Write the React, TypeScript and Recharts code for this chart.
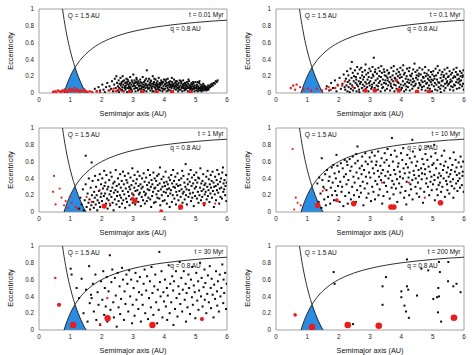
import React from "react";
import { ComposedChart, Scatter, Line, Area, XAxis, YAxis, ReferenceArea, ReferenceDot } from "recharts";

type Pt = [number, number];

const xTicks = [0, 1, 2, 3, 4, 5, 6];
const yTicks = [0, 0.2, 0.4, 0.6, 0.8, 1];
const times = ["t = 0.01 Myr", "t = 0.1 Myr", "t = 1 Myr", "t = 10 Myr", "t = 30 Myr", "t = 200 Myr"];

// aphelion Q = 1.5 AU and perihelion q = 0.8 AU
const QCurve: Pt[] = [[0.75,1],[0.8,.875],[0.85,.765],[0.9,.667],[0.95,.579],[1,.5],[1.05,.429],[1.1,.364],[1.15,.304],[1.2,.25],[1.3,.154],[1.4,.071],[1.5,0]];
const qCurve: Pt[] = [[0.8,0],[0.85,.059],[0.9,.111],[1,.2],[1.1,.273],[1.15,.304],[1.2,.333],[1.3,.385],[1.4,.429],[1.6,.5],[1.8,.556],[2,.6],[2.25,.644],[2.5,.68],[2.75,.709],[3,.733],[3.5,.771],[4,.8],[4.5,.822],[5,.84],[5.5,.855],[6,.867]];
const zone: Pt[] = [[0.8,0],[0.85,.059],[0.9,.111],[1,.2],[1.1,.273],[1.15,.304],[1.2,.25],[1.3,.154],[1.4,.071],[1.5,0]];

// planetesimals
const dots1: Pt[] = [[1.78,.05],[1.84,.02],[1.9,.07],[1.95,.03],[2.02,.1],[2.06,.04],[2.1,.01],[2.14,.07],[2.18,.12],[2.22,.03],[2.25,.08],[2.3,.05],[2.33,.14],[2.36,.02],[2.4,.1],[2.42,.17],[2.45,.06],[2.47,.2],[2.49,.12],[2.5,.03],
[2.52,.08],[2.54,.15],[2.55,.01],[2.57,.11],[2.58,.05],[2.6,.18],[2.61,.09],[2.63,.03],[2.64,.13],[2.66,.07],[2.67,.2],[2.69,.1],[2.7,.02],[2.72,.15],[2.73,.06],[2.75,.12],[2.76,.04],[2.78,.09],[2.79,.17],[2.81,.01],[2.82,.11],[2.84,.06],[2.85,.14],[2.87,.08],[2.88,.03],[2.9,.12],[2.91,.19],[2.93,.05],[2.94,.1],[2.96,.15],[2.97,.02],[2.99,.08],[2.62,.11],[2.68,.14],[2.74,.08],[2.8,.13],[2.86,.1],[2.92,.07],[2.98,.13],[2.56,.06],[2.65,.04],[2.77,.06],[2.83,.16],[2.89,.06],[2.95,.04],
[3.01,.22],[3.02,.11],[3.04,.05],[3.05,.15],[3.07,.08],[3.08,.02],[3.1,.13],[3.11,.18],[3.13,.06],[3.14,.1],[3.16,.03],[3.17,.14],[3.19,.08],[3.2,.11],[3.22,.05],[3.23,.16],[3.25,.09],[3.26,.02],[3.28,.12],[3.29,.07],[3.31,.19],[3.32,.1],[3.34,.04],[3.35,.13],[3.37,.08],[3.38,.15],[3.4,.06],[3.41,.11],[3.43,.02],[3.44,.27],[3.45,.09],[3.47,.14],[3.48,.05],[3.5,.1],[3.03,.09],[3.09,.06],[3.15,.12],[3.21,.08],[3.27,.05],[3.33,.07],[3.39,.1],[3.46,.07],[3.06,.12],[3.18,.04],[3.24,.13],[3.36,.03],[3.42,.17],[3.12,.16],
[3.51,.17],[3.52,.06],[3.54,.12],[3.55,.03],[3.57,.09],[3.58,.14],[3.6,.05],[3.61,.11],[3.63,.2],[3.64,.08],[3.66,.02],[3.67,.13],[3.69,.07],[3.7,.1],[3.72,.16],[3.73,.04],[3.75,.12],[3.76,.08],[3.78,.14],[3.79,.05],[3.81,.1],[3.82,.18],[3.84,.07],[3.85,.12],[3.87,.03],[3.88,.09],[3.9,.15],[3.91,.06],[3.93,.11],[3.94,.02],[3.96,.13],[3.97,.08],[3.99,.16],[3.53,.09],[3.59,.07],[3.65,.11],[3.71,.06],[3.77,.1],[3.83,.04],[3.89,.12],[3.95,.05],[3.56,.15],[3.62,.02],[3.68,.17],[3.74,.09],[3.8,.07],[3.86,.1],[3.92,.13],[3.98,.04],
[4.01,.1],[4.02,.05],[4.04,.14],[4.05,.08],[4.07,.02],[4.08,.12],[4.1,.06],[4.11,.17],[4.13,.09],[4.14,.04],[4.16,.11],[4.17,.07],[4.19,.14],[4.2,.03],[4.22,.1],[4.23,.06],[4.25,.13],[4.26,.08],[4.28,.02],[4.29,.11],[4.31,.16],[4.32,.05],[4.34,.09],[4.35,.12],[4.37,.04],[4.38,.08],[4.4,.14],[4.41,.06],[4.43,.1],[4.44,.02],[4.46,.12],[4.47,.07],[4.49,.15],[4.03,.11],[4.09,.09],[4.15,.13],[4.21,.08],[4.27,.1],[4.33,.07],[4.39,.11],[4.45,.05],[4.06,.16],[4.12,.03],[4.18,.1],[4.24,.18],[4.3,.08],[4.36,.14],[4.42,.09],[4.48,.04],
[4.51,.09],[4.52,.04],[4.54,.12],[4.55,.07],[4.57,.02],[4.58,.1],[4.6,.15],[4.61,.06],[4.63,.09],[4.64,.03],[4.66,.12],[4.67,.07],[4.69,.1],[4.7,.05],[4.72,.13],[4.73,.08],[4.75,.02],[4.76,.11],[4.78,.06],[4.79,.14],[4.81,.09],[4.82,.04],[4.84,.1],[4.85,.07],[4.87,.12],[4.88,.03],[4.9,.08],[4.91,.05],[4.93,.11],[4.94,.07],[4.96,.02],[4.97,.09],[4.99,.13],[4.53,.14],[4.59,.08],[4.65,.05],[4.71,.09],[4.77,.16],[4.83,.06],[4.89,.1],[4.95,.05],[4.56,.06],[4.62,.11],[4.68,.04],[4.74,.06],[4.8,.08],[4.86,.05],[4.92,.13],[4.98,.06],
[5.01,.06],[5.02,.03],[5.04,.1],[5.05,.05],[5.07,.02],[5.08,.08],[5.1,.04],[5.11,.12],[5.13,.06],[5.14,.03],[5.16,.07],[5.17,.05],[5.19,.02],[5.2,.09],[5.22,.04],[5.23,.06],[5.25,.03],[5.26,.07],[5.28,.05],[5.29,.04],[5.31,.08],[5.32,.05],[5.34,.03],[5.35,.06],[5.37,.07],[5.38,.05],[5.4,.09],[5.42,.06],[5.44,.08],[5.46,.07],[5.48,.1],[5.5,.08],[5.52,.11],[5.55,.09],[5.58,.12],[5.61,.11],[5.64,.14],[5.67,.13],[5.7,.15],[5.03,.08],[5.09,.06],[5.15,.1],[5.21,.07],[5.27,.09],[5.33,.04],[5.12,.14],[5.24,.11],[5.06,.13],[5.18,.04],[5.3,.06],[5.36,.04],[5.41,.04]];

const dots2: Pt[] = [[1.62,.08],[1.7,.03],[1.76,.12],[1.82,.06],[1.88,.15],[1.93,.02],[1.97,.09],[2.03,.18],[2.07,.05],[2.12,.11],[2.16,.22],[2.19,.07],
[2.21,.04],[2.23,.17],[2.25,.09],[2.27,.26],[2.28,.02],[2.29,.13],[2.31,.21],[2.32,.07],[2.34,.15],[2.35,.01],[2.37,.11],[2.38,.29],[2.39,.05],
[2.41,.18],[2.42,.37],[2.43,.09],[2.45,.24],[2.46,.03],[2.48,.14],[2.49,.2],[2.51,.06],[2.52,.27],[2.54,.12],[2.55,.19],[2.57,.02],[2.58,.1],[2.59,.31],[2.56,.16],
[2.61,.23],[2.62,.08],[2.64,.14],[2.65,.04],[2.67,.28],[2.68,.11],[2.69,.18],[2.66,.01],[2.71,.13],[2.72,.3],[2.74,.06],[2.75,.21],[2.77,.1],[2.78,.16],[2.79,.03],[2.76,.25],
[2.81,.19],[2.82,.08],[2.84,.27],[2.85,.13],[2.87,.05],[2.88,.22],[2.89,.11],[2.86,.34],[2.91,.07],[2.92,.16],[2.94,.24],[2.95,.02],[2.97,.12],[2.98,.29],[2.99,.09],[2.96,.19],
[3.01,.14],[3.02,.26],[3.04,.05],[3.05,.18],[3.07,.1],[3.08,.31],[3.09,.22],[3.06,.07],[3.11,.2],[3.12,.42],[3.13,.12],[3.15,.06],[3.16,.25],[3.18,.15],[3.19,.03],[3.17,.28],
[3.21,.09],[3.22,.23],[3.24,.17],[3.25,.04],[3.27,.3],[3.28,.12],[3.29,.2],[3.26,.08],[3.31,.26],[3.32,.14],[3.34,.02],[3.35,.19],[3.37,.1],[3.38,.24],[3.39,.06],[3.36,.32],
[3.41,.16],[3.42,.07],[3.44,.28],[3.45,.12],[3.47,.21],[3.48,.03],[3.49,.15],[3.46,.25],[3.51,.11],[3.52,.2],[3.54,.05],[3.55,.27],[3.57,.15],[3.58,.09],[3.59,.23],[3.56,.18],
[3.61,.24],[3.62,.13],[3.64,.03],[3.65,.19],[3.67,.08],[3.68,.3],[3.69,.16],[3.66,.11],[3.71,.06],[3.72,.21],[3.74,.14],[3.75,.26],[3.77,.1],[3.78,.02],[3.79,.18],[3.76,.32],
[3.81,.17],[3.82,.09],[3.84,.23],[3.85,.05],[3.87,.28],[3.88,.13],[3.89,.2],[3.86,.15],[3.91,.12],[3.92,.25],[3.94,.07],[3.95,.18],[3.97,.3],[3.98,.1],[3.99,.04],[3.96,.22],
[4.01,.19],[4.02,.06],[4.04,.27],[4.05,.14],[4.07,.09],[4.08,.22],[4.09,.02],[4.06,.33],[4.11,.24],[4.12,.11],[4.14,.17],[4.15,.04],[4.17,.2],[4.18,.29],[4.19,.13],[4.16,.08],
[4.21,.07],[4.22,.16],[4.24,.26],[4.25,.12],[4.27,.03],[4.28,.21],[4.29,.15],[4.26,.3],[4.31,.2],[4.32,.1],[4.34,.23],[4.35,.05],[4.37,.17],[4.38,.28],[4.39,.08],[4.36,.13],
[4.41,.14],[4.42,.35],[4.44,.09],[4.45,.25],[4.47,.18],[4.48,.02],[4.49,.21],[4.46,.11],[4.51,.27],[4.52,.16],[4.54,.06],[4.55,.2],[4.57,.12],[4.58,.3],[4.59,.09],[4.56,.23],
[4.61,.1],[4.62,.22],[4.64,.15],[4.65,.04],[4.67,.28],[4.68,.13],[4.69,.19],[4.66,.07],[4.71,.18],[4.72,.08],[4.74,.24],[4.75,.14],[4.77,.03],[4.78,.2],[4.79,.11],[4.76,.31],
[4.81,.23],[4.82,.12],[4.84,.06],[4.85,.17],[4.87,.27],[4.88,.09],[4.89,.15],[4.86,.21],[4.91,.05],[4.92,.19],[4.94,.13],[4.95,.25],[4.97,.1],[4.98,.02],[4.99,.22],[4.96,.16],
[5.01,.15],[5.02,.26],[5.04,.08],[5.05,.2],[5.07,.12],[5.08,.04],[5.09,.29],[5.06,.17],[5.11,.21],[5.12,.1],[5.14,.16],[5.15,.03],[5.17,.24],[5.18,.13],[5.19,.07],[5.16,.32],
[5.21,.12],[5.22,.27],[5.24,.05],[5.25,.18],[5.27,.09],[5.28,.22],[5.29,.14],[5.26,.01],[5.31,.25],[5.32,.15],[5.34,.08],[5.35,.19],[5.37,.03],[5.38,.28],[5.39,.11],[5.36,.21],
[5.41,.06],[5.42,.17],[5.44,.23],[5.45,.12],[5.47,.3],[5.48,.09],[5.49,.19],[5.46,.14],[5.51,.2],[5.52,.11],[5.54,.26],[5.55,.04],[5.57,.16],[5.58,.22],[5.59,.08],[5.56,.13],
[5.61,.14],[5.62,.24],[5.64,.07],[5.65,.18],[5.67,.28],[5.68,.1],[5.69,.2],[5.66,.03],[5.71,.09],[5.72,.19],[5.74,.25],[5.75,.13],[5.77,.05],[5.78,.22],[5.79,.16],[5.76,.3],
[5.81,.22],[5.82,.12],[5.84,.17],[5.85,.06],[5.87,.26],[5.88,.1],[5.89,.2],[5.86,.14],[5.91,.15],[5.92,.24],[5.94,.08],[5.95,.19],[5.97,.11],[5.98,.27],[5.99,.04],[5.96,.21]];

const dots3: Pt[] = [[1.28,.04],[1.32,.17],[1.36,.09],[1.4,.27],[1.43,.02],[1.46,.14],[1.49,.33],[1.49,.67],[1.52,.06],[1.55,.22],[1.58,.11],[1.59,.4],
[1.61,.15],[1.63,.03],[1.65,.29],[1.68,.59],[1.67,.08],[1.69,.2],[1.71,.37],[1.73,.12],[1.75,.05],[1.76,.24],[1.78,.17],[1.79,.43],
[1.81,.09],[1.82,.3],[1.84,.2],[1.86,.02],[1.87,.14],[1.89,.38],[1.91,.25],[1.92,.11],[1.94,.45],[1.95,.06],[1.97,.18],[1.98,.33],[1.99,.22],
[2.01,.13],[2.02,.4],[2.04,.28],[2.05,.07],[2.07,.19],[2.08,.49],[2.09,.31],[2.11,.22],[2.12,.35],[2.14,.1],[2.15,.44],[2.17,.16],[2.18,.27],[2.19,.04],
[2.21,.3],[2.22,.14],[2.24,.38],[2.25,.21],[2.27,.08],[2.28,.47],[2.29,.25],[2.31,.18],[2.32,.42],[2.34,.29],[2.35,.11],[2.37,.34],[2.38,.02],[2.39,.23],
[2.41,.36],[2.42,.15],[2.44,.26],[2.45,.5],[2.47,.09],[2.48,.31],[2.49,.19],[2.51,.24],[2.52,.4],[2.54,.13],[2.55,.33],[2.57,.06],[2.58,.2],[2.59,.45],
[2.61,.29],[2.62,.17],[2.64,.37],[2.65,.1],[2.67,.25],[2.68,.48],[2.69,.14],[2.71,.33],[2.72,.21],[2.74,.43],[2.75,.05],[2.77,.28],[2.78,.16],[2.79,.38],
[2.81,.12],[2.82,.35],[2.84,.24],[2.85,.46],[2.87,.19],[2.88,.3],[2.89,.08],[2.91,.27],[2.92,.41],[2.94,.15],[2.95,.32],[2.97,.22],[2.98,.52],[2.99,.11],
[3.01,.37],[3.02,.2],[3.04,.29],[3.05,.44],[3.07,.09],[3.08,.25],[3.09,.34],[3.11,.16],[3.12,.39],[3.14,.26],[3.15,.48],[3.17,.12],[3.18,.31],[3.19,.21],
[3.21,.43],[3.22,.23],[3.24,.33],[3.25,.07],[3.27,.28],[3.28,.18],[3.29,.4],[3.31,.3],[3.32,.14],[3.34,.46],[3.35,.24],[3.37,.36],[3.38,.1],[3.39,.2],
[3.41,.22],[3.42,.41],[3.44,.13],[3.45,.32],[3.47,.27],[3.48,.5],[3.49,.17],[3.51,.35],[3.52,.26],[3.54,.44],[3.55,.15],[3.57,.3],[3.58,.06],[3.59,.38],
[3.61,.19],[3.62,.33],[3.64,.24],[3.65,.47],[3.67,.11],[3.68,.28],[3.69,.4],[3.71,.29],[3.72,.12],[3.74,.37],[3.75,.21],[3.77,.43],[3.78,.17],[3.79,.32],
[3.81,.25],[3.82,.45],[3.84,.16],[3.85,.34],[3.86,.53],[3.87,.08],[3.89,.27],[3.91,.39],[3.92,.2],[3.94,.3],[3.95,.13],[3.97,.42],[3.98,.24],[3.99,.35],
[4.01,.14],[4.02,.31],[4.04,.48],[4.05,.23],[4.07,.36],[4.08,.1],[4.09,.27],[4.11,.33],[4.12,.19],[4.14,.41],[4.15,.28],[4.17,.06],[4.18,.38],[4.19,.22],
[4.21,.26],[4.22,.44],[4.24,.12],[4.25,.34],[4.27,.2],[4.28,.5],[4.29,.3],[4.31,.37],[4.32,.16],[4.34,.29],[4.35,.42],[4.37,.09],[4.38,.24],[4.39,.33],
[4.41,.2],[4.42,.46],[4.44,.31],[4.45,.14],[4.47,.38],[4.48,.25],[4.49,.04],[4.51,.32],[4.52,.18],[4.54,.4],[4.55,.27],[4.57,.49],[4.58,.11],[4.59,.22],
[4.61,.43],[4.62,.24],[4.64,.35],[4.65,.15],[4.67,.3],[4.68,.57],[4.69,.2],[4.71,.27],[4.72,.09],[4.74,.39],[4.75,.33],[4.77,.18],[4.78,.45],[4.79,.26],
[4.81,.36],[4.82,.22],[4.84,.5],[4.85,.13],[4.87,.31],[4.88,.41],[4.89,.17],[4.91,.23],[4.92,.34],[4.94,.07],[4.95,.44],[4.97,.28],[4.98,.19],[4.99,.38],
[5.01,.3],[5.02,.47],[5.04,.16],[5.05,.35],[5.07,.24],[5.08,.41],[5.09,.11],[5.11,.4],[5.12,.2],[5.14,.29],[5.15,.52],[5.17,.14],[5.18,.34],[5.19,.25],
[5.21,.18],[5.22,.37],[5.24,.45],[5.25,.27],[5.27,.08],[5.28,.32],[5.29,.21],[5.31,.34],[5.32,.24],[5.34,.42],[5.35,.15],[5.37,.3],[5.38,.49],[5.39,.19],
[5.41,.26],[5.42,.39],[5.44,.12],[5.45,.33],[5.47,.22],[5.48,.44],[5.49,.29],[5.51,.37],[5.52,.17],[5.54,.48],[5.55,.25],[5.57,.35],[5.58,.06],[5.59,.3],
[5.61,.21],[5.62,.42],[5.64,.31],[5.65,.14],[5.67,.38],[5.68,.26],[5.69,.5],[5.71,.33],[5.72,.23],[5.74,.45],[5.75,.1],[5.77,.28],[5.78,.36],[5.79,.18],
[5.81,.4],[5.82,.29],[5.84,.16],[5.85,.47],[5.87,.53],[5.88,.24],[5.89,.34],[5.91,.27],[5.92,.38],[5.94,.2],[5.95,.31],[5.97,.44],[5.98,.13],[5.99,.35]];

const dots4: Pt[] = [[1.32,.34],[1.36,.12],[1.38,.41],[1.42,.22],[1.45,.05],[1.48,.38],[1.46,.64],[1.51,.3],[1.54,.15],[1.57,.45],[1.59,.08],
[1.61,.26],[1.63,.5],[1.66,.18],[1.68,.37],[1.71,.42],[1.73,.1],[1.75,.29],[1.78,.53],[1.79,.2],[1.81,.35],[1.83,.56],[1.85,.14],[1.87,.46],[1.89,.25],
[1.91,.4],[1.93,.68],[1.94,.2],[1.96,.55],[1.98,.31],[2.01,.48],[2.03,.12],[2.05,.36],[2.07,.58],[2.09,.24],[2.11,.3],[2.13,.52],[2.15,.07],[2.17,.42],[2.19,.62],
[2.21,.19],[2.23,.45],[2.26,.6],[2.25,.33],[2.28,.56],[2.29,.1],[2.31,.38],[2.33,.23],[2.35,.63],[2.37,.49],[2.39,.15],[2.41,.54],[2.43,.3],[2.45,.66],[2.47,.42],[2.49,.2],
[2.51,.35],[2.53,.58],[2.55,.12],[2.57,.47],[2.59,.26],[2.56,.69],[2.61,.61],[2.63,.4],[2.65,.18],[2.67,.52],[2.69,.31],[2.6,.78],
[2.71,.23],[2.73,.45],[2.75,.66],[2.77,.36],[2.79,.08],[2.74,.55],[2.81,.5],[2.83,.28],[2.85,.7],[2.87,.42],[2.89,.17],[2.86,.6],
[2.91,.34],[2.93,.57],[2.95,.22],[2.97,.47],[2.99,.65],[3.01,.41],[3.03,.13],[3.05,.6],[3.07,.3],[3.09,.52],[3.06,.71],
[3.11,.24],[3.13,.46],[3.15,.67],[3.17,.37],[3.19,.56],[3.16,.15],[3.21,.6],[3.23,.33],[3.25,.49],[3.27,.2],[3.29,.42],[3.26,.72],
[3.31,.27],[3.33,.55],[3.35,.38],[3.37,.64],[3.39,.1],[3.36,.46],[3.41,.5],[3.43,.19],[3.45,.35],[3.47,.7],[3.49,.43],[3.46,.59],
[3.51,.31],[3.53,.62],[3.55,.24],[3.57,.48],[3.59,.4],[3.56,.75],[3.61,.55],[3.63,.16],[3.65,.44],[3.67,.68],[3.69,.29],[3.7,.88],
[3.71,.37],[3.73,.6],[3.75,.21],[3.77,.5],[3.79,.73],[3.76,.33],[3.81,.45],[3.83,.28],[3.85,.66],[3.87,.12],[3.89,.54],[3.86,.39],
[3.91,.58],[3.93,.34],[3.95,.48],[3.97,.23],[3.99,.7],[3.96,.42],[4.01,.3],[4.03,.62],[4.05,.4],[4.07,.52],[4.09,.17],[4.06,.76],
[4.11,.46],[4.13,.25],[4.15,.57],[4.17,.36],[4.19,.68],[4.16,.09],[4.21,.53],[4.23,.41],[4.25,.2],[4.27,.64],[4.29,.33],[4.26,.47],
[4.31,.27],[4.33,.59],[4.35,.38],[4.37,.72],[4.39,.49],[4.36,.15],[4.35,.86],[4.41,.44],[4.43,.66],[4.45,.3],[4.47,.55],[4.49,.22],[4.46,.4],
[4.51,.6],[4.53,.35],[4.55,.5],[4.57,.18],[4.59,.74],[4.56,.43],[4.61,.28],[4.63,.52],[4.65,.39],[4.67,.63],[4.69,.11],[4.66,.46],
[4.71,.57],[4.73,.24],[4.75,.45],[4.77,.69],[4.79,.34],[4.76,.51],[4.81,.4],[4.83,.62],[4.85,.3],[4.87,.54],[4.89,.2],[4.86,.78],
[4.91,.48],[4.93,.36],[4.95,.66],[4.97,.26],[4.99,.56],[4.96,.42],[5.01,.33],[5.03,.58],[5.05,.44],[5.07,.14],[5.09,.7],[5.06,.38],
[5.11,.52],[5.13,.27],[5.15,.62],[5.17,.41],[5.19,.32],[5.16,.2],[5.05,.8],[5.21,.46],[5.23,.35],[5.25,.57],[5.27,.24],[5.29,.67],[5.26,.43],
[5.31,.3],[5.33,.5],[5.35,.4],[5.37,.73],[5.39,.18],[5.36,.55],[5.41,.6],[5.43,.37],[5.45,.47],[5.47,.26],[5.49,.53],[5.46,.33],
[5.51,.42],[5.53,.22],[5.55,.64],[5.57,.36],[5.59,.5],[5.56,.45],[5.61,.31],[5.63,.56],[5.65,.39],[5.67,.71],[5.69,.28],[5.66,.17],
[5.71,.48],[5.73,.62],[5.75,.34],[5.77,.44],[5.79,.25],[5.76,.53],[5.81,.37],[5.83,.59],[5.85,.46],[5.87,.29],[5.89,.66],[5.86,.4],
[5.91,.54],[5.93,.32],[5.95,.43],[5.97,.6],[5.99,.24],[5.96,.48]];

const dots5: Pt[] = [[1.01,.73],[1.04,.66],[1.2,.5],[1.28,.38],[1.36,.61],[1.42,.2],[1.5,.48],[1.55,.1],[1.6,.76],[1.62,.32],[1.66,.42],[1.68,.38],[1.72,.55],[1.75,.22],[1.8,.66],[1.83,.12],[1.87,.45],[1.9,.3],[1.95,.06],[1.98,.58],
[2.02,.36],[2.05,.7],[2.08,.18],[2.1,.5],[2.13,.28],[2.16,.63],[2.18,.1],[2.22,.46],[2.26,.89],[2.28,.24],[2.31,.57],[2.34,.72],[2.37,.33],[2.39,.15],
[2.42,.62],[2.45,.41],[2.48,.04],[2.51,.68],[2.54,.27],[2.57,.52],[2.59,.19],[2.62,.37],[2.65,.74],[2.68,.6],[2.71,.12],[2.73,.46],[2.76,.31],[2.79,.66],
[2.82,.55],[2.85,.22],[2.88,.71],[2.91,.4],[2.94,.6],[2.97,.08],[2.99,.3],[3.02,.5],[3.05,.17],[3.08,.68],[3.11,.36],[3.14,.58],[3.17,.25],[3.19,.45],
[3.22,.63],[3.25,.1],[3.28,.42],[3.31,.3],[3.34,.55],[3.37,.72],[3.39,.2],[3.42,.47],[3.45,.64],[3.48,.13],[3.51,.38],[3.54,.58],[3.57,.27],[3.59,.75],
[3.62,.44],[3.65,.18],[3.68,.52],[3.71,.66],[3.74,.33],[3.77,.08],[3.79,.48],[3.82,.24],[3.84,.93],[3.86,.57],[3.88,.4],[3.91,.7],[3.94,.15],[3.97,.45],[3.99,.34],
[4.02,.6],[4.05,.28],[4.08,.5],[4.09,.12],[4.11,.41],[4.14,.77],[4.17,.2],[4.19,.55],[4.22,.33],[4.25,.64],[4.28,.47],[4.29,.06],[4.31,.58],[4.34,.25],[4.37,.7],[4.39,.38],
[4.42,.16],[4.45,.52],[4.48,.43],[4.49,.81],[4.51,.31],[4.54,.62],[4.57,.22],[4.59,.48],[4.62,.7],[4.65,.36],[4.68,.55],[4.69,.1],[4.71,.44],[4.74,.27],[4.77,.66],[4.79,.5],
[4.82,.19],[4.85,.6],[4.88,.39],[4.89,.75],[4.91,.3],[4.94,.53],[4.97,.45],[4.99,.14],[5.02,.68],[5.05,.35],[5.08,.58],[5.09,.24],[5.11,.47],[5.14,.8],[5.17,.4],[5.19,.62],
[5.22,.28],[5.25,.51],[5.28,.72],[5.29,.36],[5.31,.56],[5.34,.2],[5.37,.43],[5.39,.65],[5.42,.33],[5.45,.76],[5.48,.5],[5.49,.26],[5.51,.61],[5.54,.42],[5.57,.15],[5.59,.54],
[5.62,.37],[5.65,.7],[5.68,.46],[5.69,.29],[5.71,.58],[5.74,.22],[5.77,.66],[5.79,.4],[5.82,.5],[5.85,.78],[5.88,.32],[5.89,.6],[5.91,.44],[5.94,.68],[5.97,.25],[5.99,.55]];

const dots6: Pt[] = [[1.84,.69],[1.87,.55],[2.46,.07],[3.51,.63],[3.4,.52],[3.4,.3],[4,.46],[4,.39],[4.1,.29],[4.15,.22],[4.18,.52],[4.22,.48],[4.24,.145],[4.18,.84],[4.5,.41],[4.64,.73],[4.86,.71],[5.02,.37],[5.14,.39],[5.18,.5],[5.23,.69],[5.2,.4],[5.17,.21],[5.27,.1],[5.2,.81],[5.49,.58],[5.66,.52],[5.76,.55],[5.89,.45],[5.5,.81]];

// embryos: small, medium and large bodies
const small1: Pt[] = [[0.45,.01],[0.5,.02],[0.55,.01],[0.6,.03],[0.65,.02],[0.7,.01],[0.74,.03],[0.78,.02],[0.82,.04],[0.86,.02],[0.9,.01],[0.94,.03],[0.98,.05],[1.02,.02],[1.06,.04],[1.1,.03],[1.14,.06],[1.18,.02],[1.22,.04],[1.26,.03],[1.3,.01],[1.35,.03],[1.4,.02],[1.45,.04],[1.5,.02],[1.55,.01],[1.62,.02],[1.7,.01],[1.85,.02],[1.95,.01],[2.25,.03],[2.38,.05],[2.45,.02],[2.55,.04],[2.7,.02]];
const mid1: Pt[] = [];
const big1: Pt[] = [[2.9,.01],[3.3,.01],[3.76,.01],[4.24,.01],[4.84,.01]];

const small2: Pt[] = [[0.47,.06],[0.55,.09],[0.61,.04],[0.66,.1],[0.77,.07],[0.88,.04],[1.01,.055],[1.12,.03],[1.3,.05],[1.47,.03],[1.6,.05],[1.68,.07],[1.75,.04],[1.89,.06],[1.97,.1],[2.11,.09],[2.2,.14],[2.45,.07]];
const mid2: Pt[] = [[3.84,.15]];
const big2: Pt[] = [[2.85,.03],[3.15,.03],[3.92,.03],[4.5,.015],[4.88,.015]];

const small3: Pt[] = [[0.48,.43],[0.45,.24],[0.53,.09],[0.66,.28],[0.72,.17],[0.8,.08],[0.85,.13],[0.93,.05],[1.04,.11],[0.98,.18],[1.17,.06],[1.22,.04],[1.52,.18],[1.68,.12],[1.94,.26],[2.26,.1],[2.99,.22],[5.62,.1]];
const mid3: Pt[] = [[2.99,.16],[3.9,.01],[5.27,.1]];
const big3: Pt[] = [[2.08,.07],[3.06,.13],[4.52,.06]];

const small4: Pt[] = [[0.53,.75],[0.63,.17],[0.69,.11],[0.58,.03],[0.79,.08],[1.54,.28],[1.49,.25],[3.38,.35],[4.24,.35],[4.75,.17]];
const mid4: Pt[] = [[1.94,.14]];
const big4: Pt[] = [[1.33,.08],[2.48,.1],[3.67,.06],[3.76,.06],[5.25,.11]];

const small5: Pt[] = [[0.52,.62],[2.18,.38],[1.95,.07]];
const mid5: Pt[] = [[0.64,.3],[5.2,.13]];
const big5: Pt[] = [[1.09,.06],[2.19,.14],[3.62,.06]];

const small6: Pt[] = [];
const mid6: Pt[] = [[0.61,.18]];
const big6: Pt[] = [[1.15,.035],[2.29,.06],[3.28,.05],[5.68,.145]];

const toRows = (pts: Pt[]) => pts.map(([a, e]) => ({ a, e }));

const panels = [
  { t: times[0], dots: dots1, small: small1, mid: mid1, big: big1, r: [1.3, 1.6, 2.1] },
  { t: times[1], dots: dots2, small: small2, mid: mid2, big: big2, r: [1.2, 1.7, 2.3] },
  { t: times[2], dots: dots3, small: small3, mid: mid3, big: big3, r: [1.1, 1.9, 2.6] },
  { t: times[3], dots: dots4, small: small4, mid: mid4, big: big4, r: [1.1, 1.9, 2.8] },
  { t: times[4], dots: dots5, small: small5, mid: mid5, big: big5, r: [1.2, 2.1, 3.2] },
  { t: times[5], dots: dots6, small: small6, mid: mid6, big: big6, r: [1.2, 1.8, 3.3] },
];

const W = 237;
const H = 126;
const LEFT = 39;
const RIGHT = 10;
const TOP = 9;
const XAXIS_H = 33;
const PLOT_BOTTOM = H - XAXIS_H;
const FONT = "'Liberation Sans', Arial, sans-serif";
const RED = "#ec1c1c";
const BLUE = "#2a8de2";
const tickStyle = { fontSize: 6.3, fill: "#222", fontFamily: FONT };

const blackDot = (p: any) => <rect x={p.cx - 1} y={p.cy - 1} width={2} height={2} fill="#0c0c0c" />;
const redDot = (r: number) => (p: any) => <circle cx={p.cx} cy={p.cy} r={r} fill={RED} />;

const annot = (text: string, anchor: "start" | "end") => (props: any) => {
  const vb = props.viewBox || { x: 0, y: 0 };
  return (
    <text x={vb.x} y={vb.y} dy="0.35em" textAnchor={anchor} fontSize={6.5} fill="#111" fontFamily={FONT}>
      {text}
    </text>
  );
};

const xTitle = () => (
  <text x={LEFT + (W - LEFT - RIGHT) / 2} y={PLOT_BOTTOM + 20} dy="0.35em" textAnchor="middle" fontSize={7.3} fill="#111" fontFamily={FONT}>
    Semimajor axis (AU)
  </text>
);

const yTitle = () => {
  const cy = TOP + (PLOT_BOTTOM - TOP) / 2;
  return (
    <text x={10} y={cy} dy="0.35em" textAnchor="middle" fontSize={7.3} fill="#111" fontFamily={FONT} transform={`rotate(-90, 10, ${cy})`}>
      Eccentricity
    </text>
  );
};

function Panel({ cfg }: { cfg: (typeof panels)[number] }) {
  return (
    <ComposedChart width={W} height={H} margin={{ top: TOP, right: RIGHT, bottom: 0, left: 0 }}>
      <XAxis type="number" dataKey="a" domain={[0, 6]} ticks={xTicks} allowDataOverflow axisLine={false} tickLine={false} tickSize={0} tickMargin={5} tick={tickStyle} height={XAXIS_H} label={xTitle} />
      <YAxis type="number" dataKey="e" domain={[0, 1]} ticks={yTicks} allowDataOverflow axisLine={false} tickLine={false} tickSize={0} tickMargin={5} tick={tickStyle} width={LEFT} label={yTitle} />
      <Area data={toRows(zone)} dataKey="e" type="linear" fill={BLUE} fillOpacity={1} stroke="none" isAnimationActive={false} />
      <Line data={toRows(QCurve)} dataKey="e" type="monotone" stroke="#1a1a1a" strokeWidth={0.9} dot={false} isAnimationActive={false} />
      <Line data={toRows(qCurve)} dataKey="e" type="monotone" stroke="#1a1a1a" strokeWidth={0.9} dot={false} isAnimationActive={false} />
      <Scatter data={toRows(cfg.dots)} dataKey="e" shape={blackDot} isAnimationActive={false} />
      <Scatter data={toRows(cfg.small)} dataKey="e" shape={redDot(cfg.r[0])} isAnimationActive={false} />
      <Scatter data={toRows(cfg.mid)} dataKey="e" shape={redDot(cfg.r[1])} isAnimationActive={false} />
      <Scatter data={toRows(cfg.big)} dataKey="e" shape={redDot(cfg.r[2])} isAnimationActive={false} />
      <ReferenceArea x1={0} x2={6} y1={0} y2={1} fill="none" stroke="#8c8c8c" strokeWidth={0.8} />
      <ReferenceDot x={0.92} y={0.92} r={0} fill="none" stroke="none" label={annot("Q = 1.5 AU", "start")} />
      <ReferenceDot x={4.19} y={0.765} r={0} fill="none" stroke="none" label={annot("q = 0.8 AU", "start")} />
      <ReferenceDot x={5.89} y={0.935} r={0} fill="none" stroke="none" label={annot(cfg.t, "end")} />
    </ComposedChart>
  );
}

const rowTops = [0, 119, 237];

export default function App() {
  return (
    <div style={{ position: "absolute", left: 0, top: 0, width: 474, height: 355, overflow: "hidden", background: "#fff" }}>
      {panels.map((cfg, i) => (
        <div key={i} style={{ position: "absolute", left: (i % 2) * 237, top: rowTops[Math.floor(i / 2)], width: W, height: H }}>
          <Panel cfg={cfg} />
        </div>
      ))}
    </div>
  );
}
